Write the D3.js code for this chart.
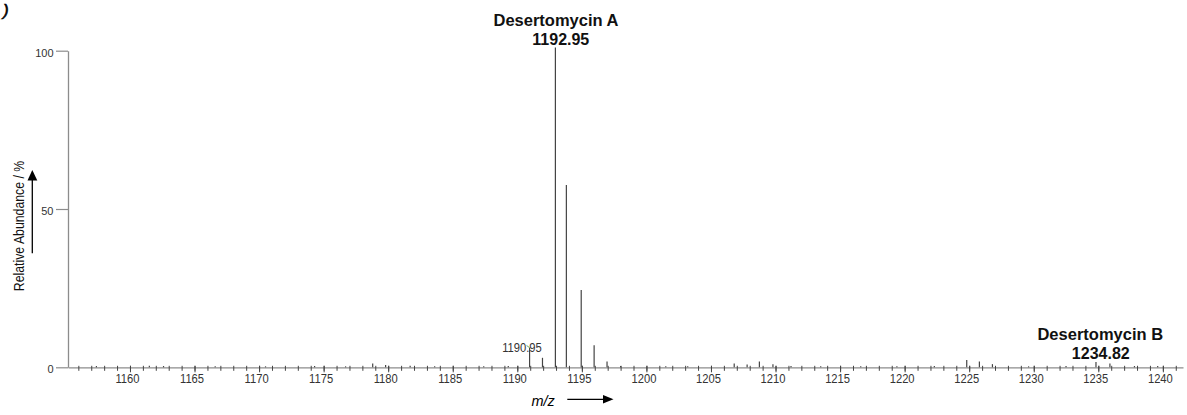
<!DOCTYPE html>
<html>
<head>
<meta charset="utf-8">
<script src="https://cdn.jsdelivr.net/npm/d3@7"></script>
<style>
  html, body { margin: 0; padding: 0; background: #fff; }
  svg { display: block; }
</style>
</head>
<body>
<svg id="chart" width="1187" height="415"></svg>
<script>
// ---- spectrum data: m/z of each centroid and its relative abundance (%) ----
const peakMz = [
  1157.4, 1161.5, 1162.6, 1166.6, 1170.5, 1174.3, 1176.7, 1178.8, 1179.8, 1181.7,
  1183.6, 1187.4, 1189.3, 1190.95, 1191.95, 1192.95, 1193.8, 1194.95, 1195.95, 1196.95,
  1198.0, 1201.5, 1203.2, 1206.8, 1207.8, 1208.75, 1209.8, 1211.2, 1213.5, 1216.6,
  1219.4, 1222.3, 1224.81, 1225.79, 1226.8, 1229.6, 1232.5, 1234.82, 1235.9, 1237.8,
  1239.6
];
const peakAbundance = [
  0.4, 0.5, 0.4, 0.3, 0.3, 0.4, 0.3, 1.2, 0.7, 0.5,
  0.3, 0.3, 0.4, 6.2, 3.0, 101, 57.6, 24.4, 7.0, 1.8,
  0.4, 0.3, 0.3, 1.2, 0.9, 1.8, 1.0, 0.4, 0.3, 0.3,
  0.3, 0.4, 2.3, 1.8, 1.0, 0.3, 0.4, 1.7, 1.2, 0.4,
  0.4
];

// annotated compounds
const compoundNames = ["Desertomycin A", "Desertomycin B"];
const compoundMz = [1192.95, 1234.82];
const compoundAbundance = [101, 1.7];

// small plain peak label
const minorLabelMz = [1190.95];
const minorLabelAbundance = [6.2];

// axis ticks
const xTickValues = d3.range(1160, 1241, 5);
const xMinorTickValues = d3.range(1156, 1242, 1);
const yTickValues = [0, 50, 100];

// ---- layout ----
const FONT = "'Liberation Sans', Arial, sans-serif";
const svg = d3.select("#chart");

const x = d3.scaleLinear().domain([1155.2, 1241.56]).range([68, 1183]);
const y = d3.scaleLinear().domain([0, 100]).range([367.3, 50.7]);

const axisGrey = "#8c8c8c";
const tickDark = "#444";

// panel letter fragment at the top-left corner
svg.append("text")
  .attr("x", 3).attr("y", 16)
  .attr("font-family", FONT).attr("font-size", 17)
  .attr("font-style", "italic")
  .attr("stroke", "#000").attr("stroke-width", 0.6)
  .attr("fill", "#000")
  .text(")");

// ---- x axis: unit minor ticks ----
const gxMinor = svg.append("g")
  .attr("transform", `translate(0,${y(0)})`)
  .call(d3.axisBottom(x).tickValues(xMinorTickValues).tickSize(3.5).tickSizeOuter(0).tickFormat(""));
gxMinor.select(".domain").attr("stroke", axisGrey).attr("stroke-width", 1.3);
gxMinor.selectAll(".tick line").attr("y1", -1.5).attr("stroke", tickDark);
gxMinor.selectAll(".tick text").remove();

// ---- x axis: labelled ticks every 5 ----
const gxMajor = svg.append("g")
  .attr("transform", `translate(0,${y(0)})`)
  .call(d3.axisBottom(x).tickValues(xTickValues).tickSize(5).tickSizeOuter(0).tickFormat(d3.format("d")));
gxMajor.select(".domain").remove();
gxMajor.selectAll(".tick line").attr("y1", -1.5).attr("stroke", tickDark);
gxMajor.selectAll(".tick text")
  .attr("x", 0).attr("y", 0).attr("dy", null)
  .attr("transform", "translate(-3,16) scale(0.83,1)")
  .attr("font-family", FONT).attr("font-size", 13.5)
  .attr("fill", "#333");

// ---- y axis ----
const gy = svg.append("g")
  .attr("transform", `translate(${x.range()[0]},0)`)
  .call(d3.axisLeft(y).tickValues(yTickValues).tickSize(12).tickSizeOuter(0).tickFormat(d3.format("d")));
gy.select(".domain").attr("stroke", axisGrey).attr("stroke-width", 1.3);
gy.selectAll(".tick line").attr("stroke", axisGrey).attr("stroke-width", 1.2);
gy.selectAll(".tick text")
  .attr("x", -14.5).attr("y", 5.5).attr("dy", null)
  .attr("font-family", FONT).attr("font-size", 11)
  .attr("fill", "#333");

// ---- y axis title with upward arrow ----
svg.append("text")
  .attr("transform", "translate(23.5,226) rotate(-90) scale(0.82,1)")
  .attr("text-anchor", "middle")
  .attr("font-family", FONT).attr("font-size", 15)
  .attr("fill", "#111")
  .text("Relative Abundance / %");

svg.append("line")
  .attr("x1", 32.3).attr("x2", 32.3).attr("y1", 253.3).attr("y2", 179)
  .attr("stroke", "#000").attr("stroke-width", 1.3);
svg.append("path")
  .attr("d", "M32.3,170 L37.3,180.5 L27.5,180.5 Z")
  .attr("fill", "#000");

// ---- x axis title with rightward arrow ----
svg.append("text")
  .attr("x", 531.5).attr("y", 406)
  .attr("font-family", FONT).attr("font-size", 14.5)
  .attr("font-style", "italic")
  .attr("fill", "#000")
  .text("m/z");

svg.append("line")
  .attr("x1", 567.3).attr("x2", 604).attr("y1", 399.3).attr("y2", 399.3)
  .attr("stroke", "#000").attr("stroke-width", 1.3);
svg.append("path")
  .attr("d", "M613.5,399.3 L603,395 L603,403.6 Z")
  .attr("fill", "#000");

// ---- spectrum sticks ----
svg.append("g")
  .selectAll("line")
  .data(peakMz.map((m, i) => ({ mz: m, ab: peakAbundance[i] })))
  .join("line")
  .attr("x1", d => x(d.mz)).attr("x2", d => x(d.mz))
  .attr("y1", y(0)).attr("y2", d => y(d.ab))
  .attr("stroke", "#444").attr("stroke-width", 1.2);

// ---- compound annotations (name above, m/z value just above the stick) ----
const nameDx = [0.6, 4.3];
const valueDx = [5.4, 4.8];
const annotations = svg.append("g")
  .attr("font-family", FONT).attr("font-weight", "bold").attr("fill", "#111")
  .attr("text-anchor", "middle");

compoundNames.forEach((name, i) => {
  const px = x(compoundMz[i]);
  const py = y(compoundAbundance[i]);
  annotations.append("text")
    .attr("x", px + nameDx[i]).attr("y", py - 22)
    .attr("font-size", 16.5)
    .text(name);
  annotations.append("text")
    .attr("x", px + valueDx[i]).attr("y", py - 3)
    .attr("font-size", 16)
    .text(d3.format(".2f")(compoundMz[i]));
});

// ---- small peak label with its leader mark ----
minorLabelMz.forEach((m, i) => {
  const px = x(m);
  const py = y(minorLabelAbundance[i]);
  svg.append("line")
    .attr("x1", px - 3).attr("y1", py - 2.2)
    .attr("x2", px).attr("y2", py)
    .attr("stroke", "#6cae6c").attr("stroke-width", 1);
  svg.append("text")
    .attr("transform", `translate(${px - 7.6},${py + 4.3}) scale(0.83,1)`)
    .attr("text-anchor", "middle")
    .attr("font-family", FONT).attr("font-size", 13.5)
    .attr("fill", "#333")
    .text(d3.format(".2f")(m));
});
</script>
</body>
</html>
